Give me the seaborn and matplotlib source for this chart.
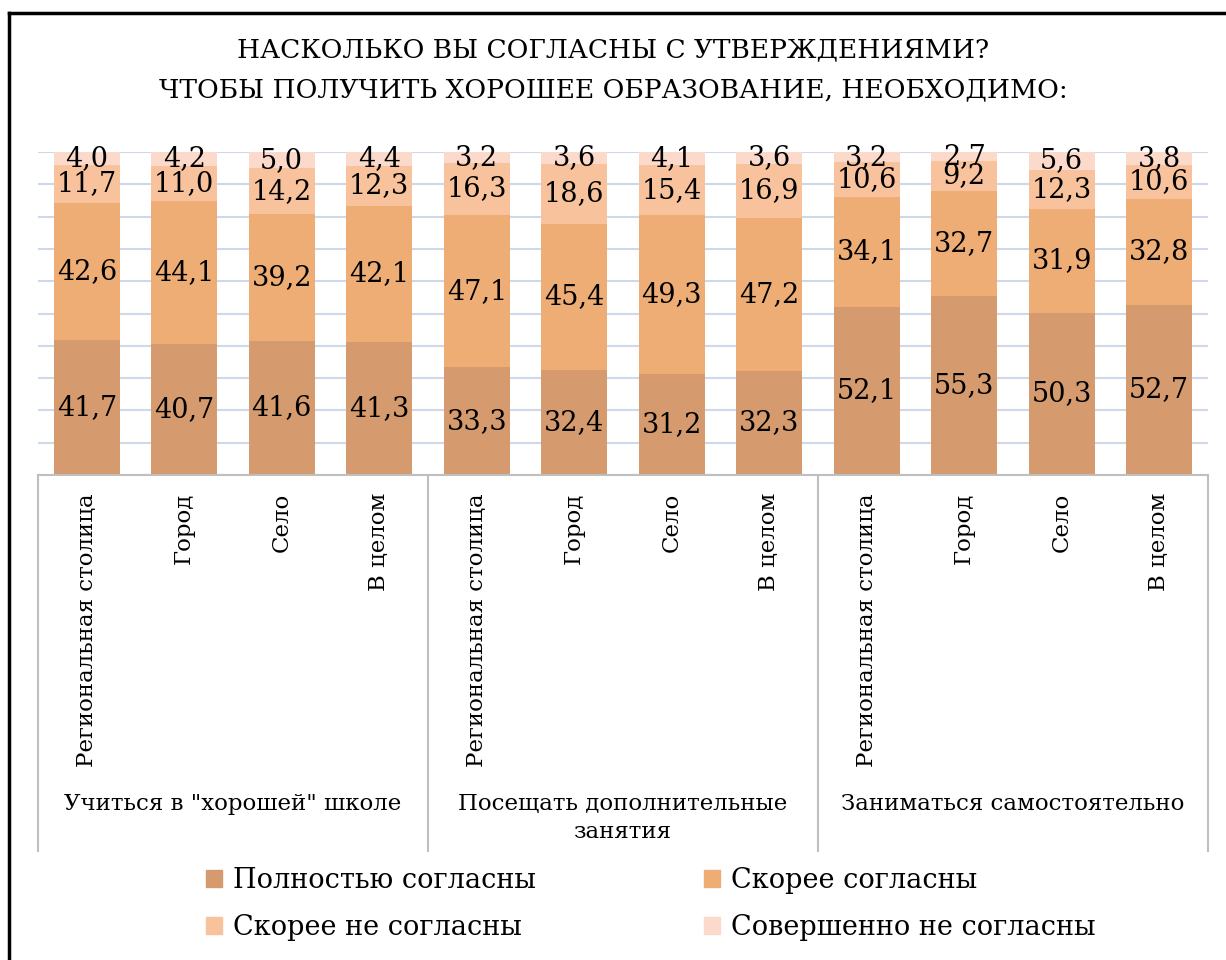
import pandas as pd
import seaborn as sns
import matplotlib.pyplot as plt
from matplotlib.lines import Line2D
from matplotlib.transforms import blended_transform_factory

# Data
places = ['Региональная столица', 'Город', 'Село', 'В целом'] * 3
groups = ['Учиться в "хорошей" школе', 'Посещать дополнительные\nзанятия', 'Заниматься самостоятельно']
answers = ['Полностью согласны', 'Скорее согласны', 'Скорее не согласны', 'Совершенно не согласны']

full_agree = [41.7, 40.7, 41.6, 41.3, 33.3, 32.4, 31.2, 32.3, 52.1, 55.3, 50.3, 52.7]
rather_agree = [42.6, 44.1, 39.2, 42.1, 47.1, 45.4, 49.3, 47.2, 34.1, 32.7, 31.9, 32.8]
rather_disagree = [11.7, 11.0, 14.2, 12.3, 16.3, 18.6, 15.4, 16.9, 10.6, 9.2, 12.3, 10.6]
full_disagree = [4.0, 4.2, 5.0, 4.4, 3.2, 3.6, 4.1, 3.6, 3.2, 2.7, 5.6, 3.8]

colors = ['#D59B6E', '#EDAD75', '#F8C39C', '#FCDACB']

series = [full_agree, rather_agree, rather_disagree, full_disagree]
keys = [str(i) for i in range(len(places))]

df = pd.DataFrame({'key': keys})
for name, vals in zip(answers, series):
    df[name] = vals

plt.rcParams['font.family'] = ['DejaVu Serif']

fig = plt.figure(figsize=(12.26, 9.6), dpi=100)
ax = fig.add_axes([38 / 1226, 1 - 475 / 960, 1170 / 1226, 323 / 960])

# stacked bars: draw cumulative totals from the top down
cum = df[answers].cumsum(axis=1)
for i in range(len(answers) - 1, -1, -1):
    sns.barplot(data=df.assign(v=cum[answers[i]]), x='key', y='v', order=keys,
                color=colors[i], width=0.68, saturation=1, ax=ax, zorder=2)

# data labels
for j in range(len(keys)):
    bottom = 0
    for vals in series:
        v = vals[j]
        ax.text(j, bottom + v / 2, f'{v:.1f}'.replace('.', ','), ha='center', va='center',
                fontsize=19.5, color='black', zorder=3)
        bottom += v

ax.set_xlim(-0.5, len(keys) - 0.5)
ax.set_ylim(0, 100)
ax.set_yticks(range(0, 101, 10))
ax.yaxis.grid(True, color='#CFD8E8', linewidth=1.5, zorder=0)
ax.set_axisbelow(True)
ax.tick_params(axis='y', left=False, labelleft=False)
ax.tick_params(axis='x', length=0, pad=13)
ax.set_xticks(range(len(keys)))
ax.set_xticklabels(places, rotation=90, va='top', fontsize=16.5)
ax.set_xlabel('')
ax.set_ylabel('')
for s in ['top', 'right', 'left']:
    ax.spines[s].set_visible(False)
ax.spines['bottom'].set_color('#BFBFBF')
ax.spines['bottom'].set_linewidth(1.5)

# group separators and group labels
trans = blended_transform_factory(ax.transData, ax.transAxes)
for x in [-0.5, 3.5, 7.5, 11.5]:
    ax.add_line(Line2D([x, x], [0, -1.163], transform=trans, color='#BFBFBF',
                       linewidth=1.5, clip_on=False))
for g, name in enumerate(groups):
    ax.text(g * 4 + 1.5, -0.985, name, transform=trans, ha='center', va='top',
            fontsize=16.5, linespacing=1.35)

fig.text(0.5, 1 - 70 / 960, 'НАСКОЛЬКО ВЫ СОГЛАСНЫ С УТВЕРЖДЕНИЯМИ?\nЧТОБЫ ПОЛУЧИТЬ ХОРОШЕЕ ОБРАЗОВАНИЕ, НЕОБХОДИМО:',
         ha='center', va='center', fontsize=19, linespacing=1.75)

handles = [plt.Rectangle((0, 0), 1, 1, color=c) for c in colors]
order = [0, 2, 1, 3]
fig.legend([handles[k] for k in order], [answers[k] for k in order], loc='center',
           bbox_to_anchor=(651 / 1226, 1 - 904 / 960), ncol=2,
           frameon=False, fontsize=19.5, handlelength=0.6, handleheight=0.6, handletextpad=0.4,
           columnspacing=6.2, labelspacing=0.75)

# outer frame
fig.add_artist(Line2D([9 / 1226, 9 / 1226], [0, 1 - 13 / 960], color='black', linewidth=2.5))
fig.add_artist(Line2D([9 / 1226, 1], [1 - 13 / 960, 1 - 13 / 960], color='black', linewidth=2.5))

fig.savefig('out.png', dpi=100)
